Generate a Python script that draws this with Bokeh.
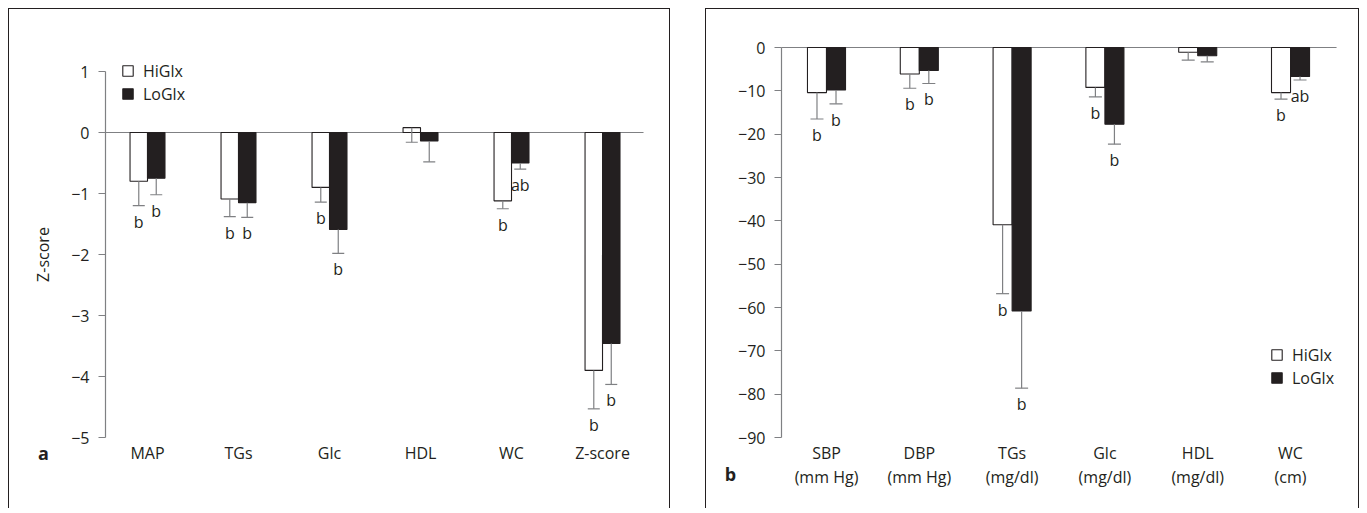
from bokeh.plotting import figure
from bokeh.models import FixedTicker, Legend, LegendItem, Range1d
from bokeh.layouts import row
from bokeh.embed import file_html
from bokeh.resources import INLINE
from bokeh.core.properties import value

# ---------------- data: panel a (Z-scores) ----------------
cats_a = ["MAP", "TGs", "Glc", "HDL", "WC", "Z-score"]
hi_a = [-0.80, -1.09, -0.90, 0.08, -1.12, -3.90]
hi_a_se = [0.40, 0.29, 0.24, 0.24, 0.13, 0.63]
lo_a = [-0.75, -1.15, -1.59, -0.14, -0.50, -3.46]
lo_a_se = [0.27, 0.24, 0.39, 0.34, 0.10, 0.67]
hi_a_sig = ["b", "b", "b", "", "b", "b"]
lo_a_sig = ["b", "b", "b", "", "ab", "b"]
yticks_a = [1, 0, -1, -2, -3, -4, -5]

# ---------------- data: panel b (raw changes) ----------------
cats_b = ["SBP\n(mm Hg)", "DBP\n(mm Hg)", "TGs\n(mg/dl)", "Glc\n(mg/dl)", "HDL\n(mg/dl)", "WC\n(cm)"]
hi_b = [-10.4, -6.1, -40.9, -9.2, -1.1, -10.4]
hi_b_se = [6.1, 3.3, 15.9, 2.2, 1.8, 1.5]
lo_b = [-9.8, -5.3, -60.8, -17.7, -1.9, -6.7]
lo_b_se = [3.2, 3.0, 17.8, 4.6, 1.4, 0.8]
hi_b_sig = ["b", "b", "b", "b", "", "b"]
lo_b_sig = ["b", "b", "b", "b", "", "ab"]
yticks_b = [0, -10, -20, -30, -40, -50, -60, -70, -80, -90]

series_names = ["HiGlx", "LoGlx"]

FONT = "Open Sans"
INK = "#231f20"
GREY = "#7f8083"
BORDER = "1.5px solid #231f20"


def make_panel(cats, hi, hi_se, lo, lo_se, hi_sig, lo_sig, yticks,
               xr, yr, axis_x, line_end, width, bar_w, cap_w, legend_loc,
               letter, letter_xy):
    p = figure(width=width, height=500, x_range=Range1d(*xr), y_range=Range1d(*yr),
               output_backend="svg", toolbar_location=None,
               min_border_left=0, min_border_right=0,
               min_border_top=0, min_border_bottom=0)
    p.outline_line_color = None
    p.xgrid.visible = False
    p.ygrid.visible = False
    p.background_fill_color = "white"
    p.border_fill_color = "white"
    p.styles = {"border-top": BORDER, "border-left": BORDER, "border-right": BORDER}

    n = len(cats)
    idx = list(range(n))
    off = bar_w / 2
    xh = [i - off for i in idx]
    xl = [i + off for i in idx]
    end_h = [v - s for v, s in zip(hi, hi_se)]
    end_l = [v - s for v, s in zip(lo, lo_se)]
    y_bottom = min(yticks)

    # zero line, from the y axis to the right end
    p.segment(x0=[axis_x], y0=[0], x1=[line_end], y1=[0], line_color=GREY, line_width=1.2)

    r_hi = p.vbar(x=xh, top=hi, bottom=0, width=bar_w, fill_color="white",
                  line_color=INK, line_width=1.1)
    r_lo = p.vbar(x=xl, top=lo, bottom=0, width=bar_w, fill_color=INK,
                  line_color=INK, line_width=1.1)

    for xs, ys, es in ((xh, hi, end_h), (xl, lo, end_l)):
        p.segment(x0=xs, y0=ys, x1=xs, y1=es, line_color=GREY, line_width=1.2)
        p.segment(x0=[x - cap_w / 2 for x in xs], y0=es,
                  x1=[x + cap_w / 2 for x in xs], y1=es,
                  line_color=GREY, line_width=1.2)

    for xs, es, sig in ((xh, end_h, hi_sig), (xl, end_l, lo_sig)):
        p.text(x=xs, y=es, text=sig, y_offset=16, text_align="center",
               text_baseline="middle", text_font=value(FONT),
               text_font_size=value("16px"), text_color=value(INK))

    # y axis, drawn at a fixed x inside the frame
    ya = p.yaxis[0]
    ya.fixed_location = axis_x
    ya.ticker = FixedTicker(ticks=yticks)
    ya.bounds = (min(yticks), max(yticks))
    ya.major_label_overrides = {t: str(t).replace("-", "\u2212") for t in yticks}
    ya.axis_line_color = GREY
    ya.axis_line_width = 1.2
    ya.major_tick_line_color = GREY
    ya.major_tick_line_width = 1.2
    ya.major_tick_out = 7
    ya.major_tick_in = 0
    ya.minor_tick_line_color = None
    ya.major_label_standoff = 9
    ya.major_label_text_font = FONT
    ya.major_label_text_font_size = "16px"
    ya.major_label_text_color = INK

    # x axis (category labels), drawn at the bottom of the value scale
    xa = p.xaxis[0]
    xa.fixed_location = y_bottom
    xa.ticker = FixedTicker(ticks=idx)
    xa.major_label_overrides = {i: c for i, c in zip(idx, cats)}
    xa.axis_line_color = None
    xa.major_tick_line_color = None
    xa.minor_tick_line_color = None
    xa.major_label_standoff = -2
    xa.major_label_text_font = FONT
    xa.major_label_text_font_size = "16px"
    xa.major_label_text_color = INK
    xa.major_label_text_line_height = 1.1

    legend = Legend(items=[LegendItem(label=series_names[0], renderers=[r_hi]),
                           LegendItem(label=series_names[1], renderers=[r_lo])],
                    location=legend_loc, orientation="vertical",
                    border_line_color=None, background_fill_alpha=0,
                    padding=0, margin=0, spacing=0,
                    glyph_width=13, glyph_height=13, label_height=23,
                    label_standoff=9, label_text_font=FONT,
                    label_text_font_size="16px", label_text_color=INK,
                    label_text_baseline="middle")
    p.add_layout(legend)

    # panel letter
    p.text(x=[letter_xy[0]], y=[letter_xy[1]], text=[letter], text_align="center",
           text_baseline="middle", text_font=value(FONT), text_font_style="bold",
           text_font_size=value("18px"), text_color=value(INK))
    return p


pa = make_panel(cats_a, hi_a, hi_a_se, lo_a, lo_a_se, hi_a_sig, lo_a_sig, yticks_a,
                xr=(-1.5165, 5.758), yr=(-6.180, 2.0164), axis_x=-0.4615, line_end=5.4505,
                width=662, bar_w=0.192, cap_w=0.132,
                legend_loc=(112, 404), letter="a", letter_xy=(-1.143, -5.246))
pa.yaxis[0].axis_label = "Z-score"
pa.yaxis[0].axis_label_standoff = 14
pa.yaxis[0].axis_label_text_font = FONT
pa.yaxis[0].axis_label_text_font_size = "16px"
pa.yaxis[0].axis_label_text_font_style = "normal"
pa.yaxis[0].axis_label_text_color = INK

pb = make_panel(cats_b, hi_b, hi_b_se, lo_b, lo_b_se, hi_b_sig, lo_b_sig, yticks_b,
                xr=(-1.293, 5.754), yr=(-106.6, 8.77), axis_x=-0.485, line_end=5.496,
                width=654, bar_w=0.205, cap_w=0.14,
                legend_loc=(564, 120), letter="b", letter_xy=(-1.034, -98.5))

layout = row(pa, pb, spacing=35, margin=(8, 0, 0, 8))
open("out.html", "w").write(file_html(layout, INLINE))
